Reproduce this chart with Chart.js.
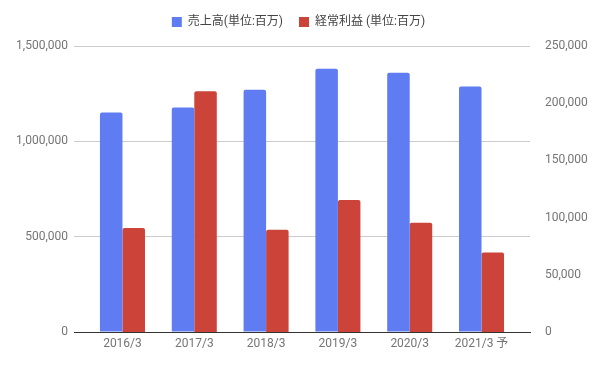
<!DOCTYPE html>
<html>
<head>
<meta charset="utf-8">
<script src="https://cdn.jsdelivr.net/npm/chart.js@4"></script>
<style>
  html, body { margin: 0; padding: 0; background: #fff; }
</style>
</head>
<body>
<canvas id="chart" width="597" height="368"></canvas>
<script>
const labels = ['2016/3', '2017/3', '2018/3', '2019/3', '2020/3', '2021/3 予'];
const sales = [1151000, 1177000, 1271000, 1381000, 1360000, 1287000];
const ordinaryProfit = [91000, 210500, 89300, 115400, 95400, 69500];

Chart.defaults.font.family = "Roboto, 'Noto Sans CJK JP', sans-serif";
Chart.defaults.font.size = 12;
Chart.defaults.color = '#757575';

// index-based x so the category area can sit inside a slightly wider plot
const toPoints = (values) => values.map((v, i) => ({x: i, y: v}));

// a bit more room under the legend
const legendGap = {
    id: 'legendGap',
    beforeInit(chart) {
        const fit = chart.legend.fit;
        chart.legend.fit = function () {
            fit.call(this);
            this.height += 8;
        };
    }
};

new Chart(document.getElementById('chart').getContext('2d'), {
    type: 'bar',
    plugins: [legendGap],
    data: {
        datasets: [{
            label: '売上高(単位:百万)',
            data: toPoints(sales),
            backgroundColor: '#5f7cf2',
            borderRadius: 2,
            yAxisID: 'y'
        }, {
            label: '経常利益 (単位:百万)',
            data: toPoints(ordinaryProfit),
            backgroundColor: '#cc4439',
            borderRadius: 2,
            yAxisID: 'y1'
        }]
    },
    options: {
        responsive: false,
        animation: false,
        locale: 'en-US',
        layout: {padding: 0},
        datasets: {
            bar: {categoryPercentage: 0.627, barPercentage: 1}
        },
        plugins: {
            legend: {
                position: 'top',
                labels: {
                    boxWidth: 10,
                    boxHeight: 10,
                    padding: 16,
                    color: '#444',
                    font: {size: 12}
                }
            },
            tooltip: {enabled: false}
        },
        scales: {
            x: {
                type: 'linear',
                min: -0.675,
                max: labels.length - 1 + 0.675,
                offset: false,
                grid: {display: false, drawTicks: false},
                border: {color: '#333'},
                ticks: {
                    padding: 5,
                    autoSkip: false,
                    maxRotation: 0,
                    callback: (v) => labels[v]
                },
                afterBuildTicks: (scale) => {
                    scale.ticks = labels.map((_, i) => ({value: i}));
                },
                afterFit: (scale) => { scale.height = 36; }
            },
            y: {
                position: 'left',
                min: 0,
                max: 1500000,
                ticks: {stepSize: 500000, padding: 6},
                grid: {color: '#cccccc', drawTicks: false},
                border: {display: false},
                afterFit: (scale) => { scale.width = 74; }
            },
            y1: {
                position: 'right',
                min: 0,
                max: 250000,
                ticks: {stepSize: 50000, padding: 15},
                grid: {display: false, drawTicks: false},
                border: {display: false},
                afterFit: (scale) => { scale.width = 67; }
            }
        }
    }
});
</script>
</body>
</html>
